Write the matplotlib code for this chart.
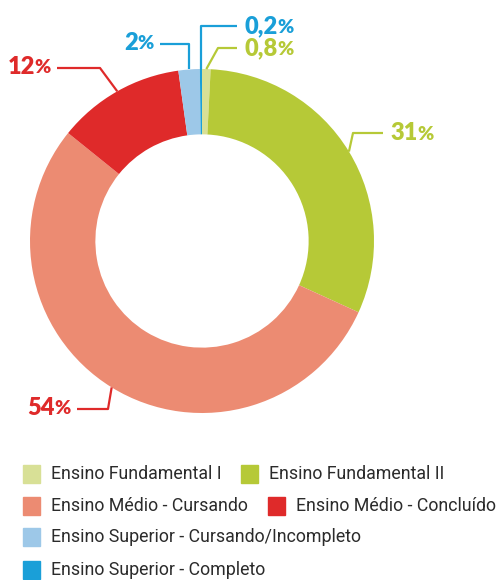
import numpy as np
import matplotlib
matplotlib.use("Agg")
import matplotlib.pyplot as plt
from matplotlib.patches import Rectangle

# data
categories = ["Ensino Fundamental I", "Ensino Fundamental II",
              "Ensino Médio - Cursando", "Ensino Médio - Concluído",
              "Ensino Superior - Cursando/Incompleto", "Ensino Superior - Completo"]
values = [0.8, 31, 54, 12, 2, 0.2]
colors = ["#d8e096", "#b6c937", "#ec8b72", "#df2a2a", "#9dc8e8", "#1a9fd8"]
label_colors = ["#b6c937", "#b6c937", "#df2a2a", "#df2a2a", "#1a9fd8", "#1a9fd8"]

W, H = 500, 580
CX, CY, R = 202, 241, 172


def px(x):
    return (x - CX) / R


def py(y):
    return (CY - y) / R


fig = plt.figure(figsize=(W / 100, H / 100), dpi=100)
ax = fig.add_axes([0, 0, 1, 1])
wedges, _ = ax.pie(values, colors=colors, startangle=90, counterclock=False,
                   radius=1, wedgeprops=dict(width=0.38, linewidth=0))
ax.set_xlim(px(0), px(W))
ax.set_ylim(py(H), py(0))
ax.set_aspect("equal")
ax.axis("off")

# leader lines: elbow point, end of line, side of label (pixel layout)
elbows = [(218, 48), (353, 133), (108, 409), (100, 68), (None, 44), (None, 26)]
ends = [(237, 48), (383, 133), (77, 409), (57, 68), (160, 44), (237, 26)]
sides = ["r", "r", "l", "l", "l", "r"]

bold = dict(family=["Lato", "DejaVu Sans"], fontweight="heavy")
for w, v, c, el, en, side in zip(wedges, values, label_colors, elbows, ends, sides):
    mid = np.deg2rad((w.theta1 + w.theta2) / 2)
    ax_, ay_ = np.cos(mid), np.sin(mid)
    ex = ax_ if el[0] is None else px(el[0])
    ey = py(el[1])
    ax.plot([ax_, ex, px(en[0])], [ay_, ey, py(en[1])], color=c, lw=1.6,
            solid_capstyle="butt")
    num = f"{v:g}".replace(".", ",")
    if side == "r":
        t = ax.text(px(en[0] + 7), py(en[1]), num, color=c, fontsize=17,
                    ha="left", va="center", **bold)
        ax.annotate("%", xy=(1, 0), xycoords=t, xytext=(0, 0.5),
                    textcoords="offset points", color=c, fontsize=14,
                    ha="left", va="bottom", **bold)
    else:
        t = ax.annotate("%", xy=(px(en[0] - 6), py(en[1])), color=c, fontsize=14,
                        ha="right", va="center", **bold)
        ax.annotate(num, xy=(0, 0), xycoords=t, xytext=(0, -1),
                    textcoords="offset points", color=c, fontsize=17,
                    ha="right", va="bottom", **bold)

# legend, laid out by hand
leg_pos = [(23, 474), (241, 474), (23, 506), (268, 506), (23, 537), (23, 570)]
for (lx, ly), c, name in zip(leg_pos, colors, categories):
    ax.add_patch(Rectangle((px(lx), py(ly + 9)), 17 / R, 18 / R, color=c,
                           clip_on=False))
    ax.text(px(lx + 28), py(ly), name, fontsize=12.8, color="#2b2b2b",
            family=["Roboto", "DejaVu Sans"], ha="left", va="center")

fig.savefig("out.png", dpi=100)
